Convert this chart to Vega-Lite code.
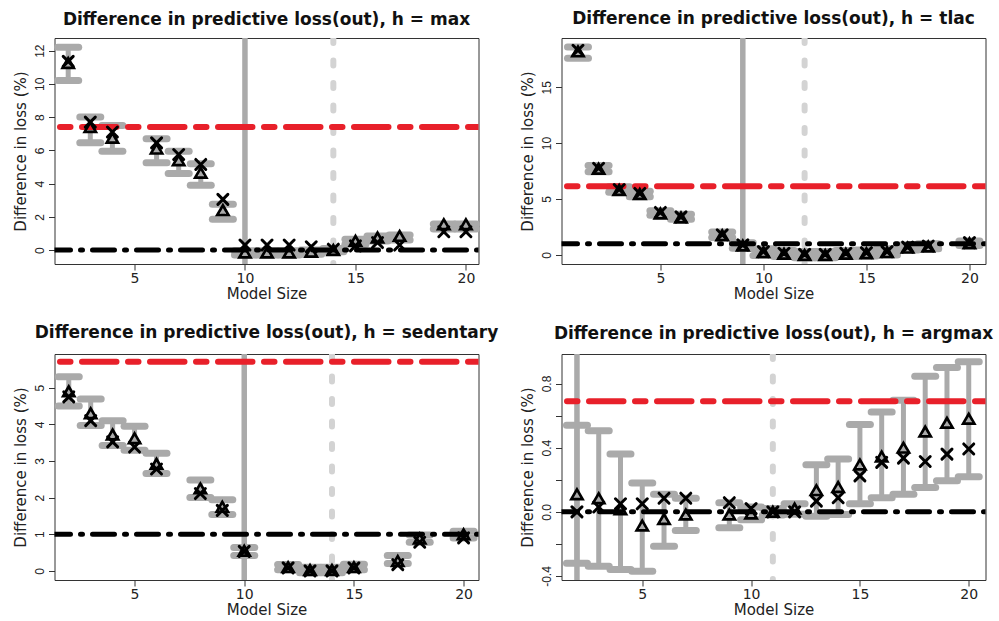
{
  "$schema": "https://vega.github.io/schema/vega-lite/v6.json",
  "background": "white",
  "padding": {"left": 12.5, "top": 9, "right": 5, "bottom": 5},
  "autosize": {"type": "pad"},
  "datasets": {
    "p1": [
      {"x": 2, "tri": 11.25, "xm": 11.35, "lo": 10.2, "hi": 12.2},
      {"x": 3, "tri": 7.4, "xm": 7.7, "lo": 6.45, "hi": 8.0},
      {"x": 4, "tri": 6.75, "xm": 7.1, "lo": 5.95, "hi": 7.5},
      {"x": 6, "tri": 6.1, "xm": 6.45, "lo": 5.25, "hi": 6.7},
      {"x": 7, "tri": 5.4, "xm": 5.75, "lo": 4.6, "hi": 5.95},
      {"x": 8, "tri": 4.65, "xm": 5.15, "lo": 3.9, "hi": 5.2},
      {"x": 9, "tri": 2.4, "xm": 3.05, "lo": 1.85, "hi": 2.75},
      {"x": 10, "tri": -0.15, "xm": 0.3, "lo": -0.3, "hi": -0.05},
      {"x": 11, "tri": -0.15, "xm": 0.3, "lo": -0.3, "hi": -0.05},
      {"x": 12, "tri": -0.15, "xm": 0.3, "lo": -0.3, "hi": -0.05},
      {"x": 13, "tri": -0.1, "xm": 0.2, "lo": -0.25, "hi": 0.0},
      {"x": 14, "tri": 0.0, "xm": 0.05, "lo": -0.1, "hi": 0.1},
      {"x": 15, "tri": 0.55, "xm": 0.25, "lo": 0.35, "hi": 0.65},
      {"x": 16, "tri": 0.75, "xm": 0.45, "lo": 0.55, "hi": 0.85},
      {"x": 17, "tri": 0.85, "xm": 0.3, "lo": 0.6, "hi": 0.9},
      {"x": 19, "tri": 1.55, "xm": 1.1, "lo": 1.27, "hi": 1.56},
      {"x": 20, "tri": 1.55, "xm": 1.1, "lo": 1.27, "hi": 1.56}
    ],
    "l1": [{"red": 7.4, "black": 0.0, "vsolid": 10, "vdash": 14}],
    "p2": [
      {"x": 1, "tri": 18.2, "xm": 18.3, "lo": 17.6, "hi": 18.6},
      {"x": 2, "tri": 7.7, "xm": 7.75, "lo": 7.45, "hi": 8.0},
      {"x": 3, "tri": 5.8, "xm": 5.85, "lo": 5.6, "hi": 6.1},
      {"x": 4, "tri": 5.45, "xm": 5.5, "lo": 5.2, "hi": 5.7},
      {"x": 5, "tri": 3.7, "xm": 3.8, "lo": 3.55, "hi": 3.95},
      {"x": 6, "tri": 3.35, "xm": 3.4, "lo": 3.2, "hi": 3.65},
      {"x": 8, "tri": 1.75, "xm": 1.8, "lo": 1.55, "hi": 2.05},
      {"x": 9, "tri": 0.85, "xm": 0.9, "lo": 0.6, "hi": 1.1},
      {"x": 10, "tri": 0.25, "xm": 0.3, "lo": -0.05, "hi": 0.55},
      {"x": 11, "tri": 0.1, "xm": 0.15, "lo": -0.15, "hi": 0.4},
      {"x": 12, "tri": 0.0, "xm": 0.05, "lo": -0.25, "hi": 0.3},
      {"x": 13, "tri": 0.0, "xm": 0.05, "lo": -0.25, "hi": 0.3},
      {"x": 14, "tri": 0.1, "xm": 0.15, "lo": -0.15, "hi": 0.4},
      {"x": 15, "tri": 0.15, "xm": 0.2, "lo": -0.1, "hi": 0.45},
      {"x": 16, "tri": 0.25, "xm": 0.3, "lo": 0.0, "hi": 0.55},
      {"x": 17, "tri": 0.65, "xm": 0.7, "lo": 0.45, "hi": 0.9},
      {"x": 18, "tri": 0.75, "xm": 0.8, "lo": 0.55, "hi": 1.0},
      {"x": 20, "tri": 1.05, "xm": 1.1, "lo": 0.85, "hi": 1.25}
    ],
    "l2": [{"red": 6.15, "black": 1.0, "vsolid": 9, "vdash": 12}],
    "p3": [
      {"x": 2, "tri": 4.9, "xm": 4.75, "lo": 4.5, "hi": 5.3},
      {"x": 3, "tri": 4.3, "xm": 4.1, "lo": 3.97, "hi": 4.69},
      {"x": 4, "tri": 3.72, "xm": 3.52, "lo": 3.42, "hi": 4.1},
      {"x": 5, "tri": 3.62, "xm": 3.38, "lo": 3.29, "hi": 3.95},
      {"x": 6, "tri": 2.92, "xm": 2.78, "lo": 2.66, "hi": 3.21},
      {"x": 8, "tri": 2.25, "xm": 2.11, "lo": 2.0, "hi": 2.48},
      {"x": 9, "tri": 1.75, "xm": 1.65, "lo": 1.54, "hi": 1.94},
      {"x": 10, "tri": 0.55, "xm": 0.53, "lo": 0.42, "hi": 0.64},
      {"x": 12, "tri": 0.1, "xm": 0.08, "lo": 0.03, "hi": 0.17},
      {"x": 13, "tri": 0.02, "xm": 0.0, "lo": -0.05, "hi": 0.1},
      {"x": 14, "tri": 0.02, "xm": 0.0, "lo": -0.05, "hi": 0.1},
      {"x": 15, "tri": 0.1, "xm": 0.08, "lo": 0.03, "hi": 0.18},
      {"x": 17, "tri": 0.27, "xm": 0.17, "lo": 0.2, "hi": 0.42},
      {"x": 18, "tri": 0.88, "xm": 0.78, "lo": 0.78, "hi": 0.98},
      {"x": 20, "tri": 1.0, "xm": 0.9, "lo": 0.9, "hi": 1.08}
    ],
    "l3": [{"red": 5.71, "black": 1.0, "vsolid": 10, "vdash": 14}],
    "p4": [
      {"x": 2, "tri": 0.11, "xm": 0.0, "lo": -0.32, "hi": 0.54},
      {"x": 3, "tri": 0.085, "xm": 0.03, "lo": -0.34, "hi": 0.505},
      {"x": 4, "tri": 0.015, "xm": 0.05, "lo": -0.36, "hi": 0.36},
      {"x": 5, "tri": -0.085, "xm": 0.05, "lo": -0.37, "hi": 0.18},
      {"x": 6, "tri": -0.045, "xm": 0.085, "lo": -0.215, "hi": 0.11},
      {"x": 7, "tri": -0.017, "xm": 0.085, "lo": -0.117, "hi": 0.085},
      {"x": 9, "tri": -0.017, "xm": 0.057, "lo": -0.1, "hi": 0.057},
      {"x": 10, "tri": -0.01, "xm": 0.02, "lo": -0.05, "hi": 0.03},
      {"x": 11, "tri": 0.0, "xm": 0.0, "lo": -0.02, "hi": 0.02},
      {"x": 12, "tri": 0.02, "xm": 0.0, "lo": -0.015, "hi": 0.05},
      {"x": 13, "tri": 0.135, "xm": 0.067, "lo": -0.027, "hi": 0.293},
      {"x": 14, "tri": 0.155, "xm": 0.088, "lo": -0.017, "hi": 0.329},
      {"x": 15, "tri": 0.295, "xm": 0.224, "lo": 0.05, "hi": 0.545},
      {"x": 16, "tri": 0.345, "xm": 0.308, "lo": 0.088, "hi": 0.622},
      {"x": 17, "tri": 0.4, "xm": 0.335, "lo": 0.109, "hi": 0.695},
      {"x": 18, "tri": 0.5, "xm": 0.314, "lo": 0.151, "hi": 0.845},
      {"x": 19, "tri": 0.555, "xm": 0.36, "lo": 0.193, "hi": 0.9},
      {"x": 20, "tri": 0.58, "xm": 0.392, "lo": 0.218, "hi": 0.936}
    ],
    "l4": [{"red": 0.69, "black": 0.0, "vsolid": 2, "vdash": 11}]
  },
  "columns": 2,
  "spacing": {"row": 90, "column": 83},
  "bounds": "flush",
  "concat": [
    {
      "title": {"text": "Difference in predictive loss(out), h = max", "offset": 9.2},
      "width": 424, "height": 226,
      "layer": [
        {"data": {"name": "p1"}, "mark": {"type": "rule", "color": "#aaaaaa", "strokeWidth": 5},
         "encoding": {
           "x": {"field": "x", "type": "quantitative", "title": "Model Size", "scale": {"domain": [1.38, 20.57], "nice": false, "zero": false}, "axis": {"values": [5, 10, 15, 20]}},
           "y": {"field": "lo", "type": "quantitative", "title": "Difference in loss (%)", "scale": {"domain": [-0.84, 12.76], "nice": false, "zero": false}, "axis": {"values": [0, 2, 4, 6, 8, 10, 12], "tickCount": 7}},
           "y2": {"field": "hi"}}},
        {"data": {"name": "p1"}, "mark": {"type": "rule", "color": "#aaaaaa", "strokeWidth": 7, "strokeCap": "round", "xOffset": -10.5, "x2Offset": 10.5},
         "encoding": {
           "x": {"field": "x", "type": "quantitative", "title": "Model Size", "scale": {"domain": [1.38, 20.57], "nice": false, "zero": false}, "axis": {"values": [5, 10, 15, 20]}},
           "x2": {"field": "x"},
           "y": {"field": "lo", "type": "quantitative", "title": "Difference in loss (%)", "scale": {"domain": [-0.84, 12.76], "nice": false, "zero": false}, "axis": {"values": [0, 2, 4, 6, 8, 10, 12], "tickCount": 7}}}},
        {"data": {"name": "p1"}, "mark": {"type": "rule", "color": "#aaaaaa", "strokeWidth": 7, "strokeCap": "round", "xOffset": -10.5, "x2Offset": 10.5},
         "encoding": {
           "x": {"field": "x", "type": "quantitative", "title": "Model Size", "scale": {"domain": [1.38, 20.57], "nice": false, "zero": false}, "axis": {"values": [5, 10, 15, 20]}},
           "x2": {"field": "x"},
           "y": {"field": "hi", "type": "quantitative", "title": "Difference in loss (%)", "scale": {"domain": [-0.84, 12.76], "nice": false, "zero": false}, "axis": {"values": [0, 2, 4, 6, 8, 10, 12], "tickCount": 7}}}},
        {"data": {"name": "l1"}, "mark": {"type": "rule", "color": "#aaaaaa", "strokeWidth": 5.5, "clip": true},
         "encoding": {"x": {"field": "vsolid", "type": "quantitative", "title": "Model Size", "scale": {"domain": [1.38, 20.57], "nice": false, "zero": false}, "axis": {"values": [5, 10, 15, 20]}}}},
        {"data": {"name": "l1"}, "mark": {"type": "rule", "color": "#d3d3d3", "strokeWidth": 6, "strokeCap": "round", "strokeDash": [5, 17.5], "clip": true},
         "encoding": {"x": {"field": "vdash", "type": "quantitative", "title": "Model Size", "scale": {"domain": [1.38, 20.57], "nice": false, "zero": false}, "axis": {"values": [5, 10, 15, 20]}}}},
        {"data": {"name": "l1"}, "mark": {"type": "rule", "color": "#e8202a", "strokeWidth": 6, "strokeCap": "round", "strokeDash": [10.5, 11.5, 34.5, 11.5], "clip": true},
         "encoding": {"y": {"field": "red", "type": "quantitative", "title": "Difference in loss (%)", "scale": {"domain": [-0.84, 12.76], "nice": false, "zero": false}, "axis": {"values": [0, 2, 4, 6, 8, 10, 12], "tickCount": 7}}}},
        {"data": {"name": "l1"}, "mark": {"type": "rule", "color": "#000000", "strokeWidth": 5, "strokeCap": "round", "strokeDash": [2, 10, 22, 10], "clip": true},
         "encoding": {"y": {"field": "black", "type": "quantitative", "title": "Difference in loss (%)", "scale": {"domain": [-0.84, 12.76], "nice": false, "zero": false}, "axis": {"values": [0, 2, 4, 6, 8, 10, 12], "tickCount": 7}}}},
        {"data": {"name": "p1"}, "mark": {"type": "point", "shape": "triangle-up", "filled": false, "color": "#000000", "strokeWidth": 2.7, "size": 125, "opacity": 1},
         "encoding": {
           "x": {"field": "x", "type": "quantitative", "title": "Model Size", "scale": {"domain": [1.38, 20.57], "nice": false, "zero": false}, "axis": {"values": [5, 10, 15, 20]}},
           "y": {"field": "tri", "type": "quantitative", "title": "Difference in loss (%)", "scale": {"domain": [-0.84, 12.76], "nice": false, "zero": false}, "axis": {"values": [0, 2, 4, 6, 8, 10, 12], "tickCount": 7}}}},
        {"data": {"name": "p1"}, "mark": {"type": "point", "shape": "M-1,-1L1,1M-1,1L1,-1", "filled": false, "color": "#000000", "strokeWidth": 3, "strokeCap": "round", "size": 100, "opacity": 1},
         "encoding": {
           "x": {"field": "x", "type": "quantitative", "title": "Model Size", "scale": {"domain": [1.38, 20.57], "nice": false, "zero": false}, "axis": {"values": [5, 10, 15, 20]}},
           "y": {"field": "xm", "type": "quantitative", "title": "Difference in loss (%)", "scale": {"domain": [-0.84, 12.76], "nice": false, "zero": false}, "axis": {"values": [0, 2, 4, 6, 8, 10, 12], "tickCount": 7}}}}
      ]
    },
    {
      "title": {"text": "Difference in predictive loss(out), h = tlac", "offset": 10.5},
      "width": 424, "height": 226,
      "layer": [
        {"data": {"name": "p2"}, "mark": {"type": "rule", "color": "#aaaaaa", "strokeWidth": 5},
         "encoding": {
           "x": {"field": "x", "type": "quantitative", "title": "Model Size", "scale": {"domain": [0.2, 20.78], "nice": false, "zero": false}, "axis": {"values": [5, 10, 15, 20]}},
           "y": {"field": "lo", "type": "quantitative", "title": "Difference in loss (%)", "scale": {"domain": [-0.81, 19.4], "nice": false, "zero": false}, "axis": {"values": [0, 5, 10, 15]}},
           "y2": {"field": "hi"}}},
        {"data": {"name": "p2"}, "mark": {"type": "rule", "color": "#aaaaaa", "strokeWidth": 7, "strokeCap": "round", "xOffset": -10.5, "x2Offset": 10.5},
         "encoding": {
           "x": {"field": "x", "type": "quantitative", "title": "Model Size", "scale": {"domain": [0.2, 20.78], "nice": false, "zero": false}, "axis": {"values": [5, 10, 15, 20]}},
           "x2": {"field": "x"},
           "y": {"field": "lo", "type": "quantitative", "title": "Difference in loss (%)", "scale": {"domain": [-0.81, 19.4], "nice": false, "zero": false}, "axis": {"values": [0, 5, 10, 15]}}}},
        {"data": {"name": "p2"}, "mark": {"type": "rule", "color": "#aaaaaa", "strokeWidth": 7, "strokeCap": "round", "xOffset": -10.5, "x2Offset": 10.5},
         "encoding": {
           "x": {"field": "x", "type": "quantitative", "title": "Model Size", "scale": {"domain": [0.2, 20.78], "nice": false, "zero": false}, "axis": {"values": [5, 10, 15, 20]}},
           "x2": {"field": "x"},
           "y": {"field": "hi", "type": "quantitative", "title": "Difference in loss (%)", "scale": {"domain": [-0.81, 19.4], "nice": false, "zero": false}, "axis": {"values": [0, 5, 10, 15]}}}},
        {"data": {"name": "l2"}, "mark": {"type": "rule", "color": "#aaaaaa", "strokeWidth": 5.5, "clip": true},
         "encoding": {"x": {"field": "vsolid", "type": "quantitative", "title": "Model Size", "scale": {"domain": [0.2, 20.78], "nice": false, "zero": false}, "axis": {"values": [5, 10, 15, 20]}}}},
        {"data": {"name": "l2"}, "mark": {"type": "rule", "color": "#d3d3d3", "strokeWidth": 6, "strokeCap": "round", "strokeDash": [5, 17.5], "clip": true},
         "encoding": {"x": {"field": "vdash", "type": "quantitative", "title": "Model Size", "scale": {"domain": [0.2, 20.78], "nice": false, "zero": false}, "axis": {"values": [5, 10, 15, 20]}}}},
        {"data": {"name": "l2"}, "mark": {"type": "rule", "color": "#e8202a", "strokeWidth": 6, "strokeCap": "round", "strokeDash": [10.5, 11.5, 34.5, 11.5], "clip": true},
         "encoding": {"y": {"field": "red", "type": "quantitative", "title": "Difference in loss (%)", "scale": {"domain": [-0.81, 19.4], "nice": false, "zero": false}, "axis": {"values": [0, 5, 10, 15]}}}},
        {"data": {"name": "l2"}, "mark": {"type": "rule", "color": "#000000", "strokeWidth": 5, "strokeCap": "round", "strokeDash": [2, 10, 22, 10], "clip": true},
         "encoding": {"y": {"field": "black", "type": "quantitative", "title": "Difference in loss (%)", "scale": {"domain": [-0.81, 19.4], "nice": false, "zero": false}, "axis": {"values": [0, 5, 10, 15]}}}},
        {"data": {"name": "p2"}, "mark": {"type": "point", "shape": "triangle-up", "filled": false, "color": "#000000", "strokeWidth": 2.7, "size": 125, "opacity": 1},
         "encoding": {
           "x": {"field": "x", "type": "quantitative", "title": "Model Size", "scale": {"domain": [0.2, 20.78], "nice": false, "zero": false}, "axis": {"values": [5, 10, 15, 20]}},
           "y": {"field": "tri", "type": "quantitative", "title": "Difference in loss (%)", "scale": {"domain": [-0.81, 19.4], "nice": false, "zero": false}, "axis": {"values": [0, 5, 10, 15]}}}},
        {"data": {"name": "p2"}, "mark": {"type": "point", "shape": "M-1,-1L1,1M-1,1L1,-1", "filled": false, "color": "#000000", "strokeWidth": 3, "strokeCap": "round", "size": 100, "opacity": 1},
         "encoding": {
           "x": {"field": "x", "type": "quantitative", "title": "Model Size", "scale": {"domain": [0.2, 20.78], "nice": false, "zero": false}, "axis": {"values": [5, 10, 15, 20]}},
           "y": {"field": "xm", "type": "quantitative", "title": "Difference in loss (%)", "scale": {"domain": [-0.81, 19.4], "nice": false, "zero": false}, "axis": {"values": [0, 5, 10, 15]}}}}
      ]
    },
    {
      "title": {"text": "Difference in predictive loss(out), h = sedentary", "offset": 11.8},
      "width": 424, "height": 226,
      "layer": [
        {"data": {"name": "p3"}, "mark": {"type": "rule", "color": "#aaaaaa", "strokeWidth": 5},
         "encoding": {
           "x": {"field": "x", "type": "quantitative", "title": "Model Size", "scale": {"domain": [1.35, 20.68], "nice": false, "zero": false}, "axis": {"values": [5, 10, 15, 20]}},
           "y": {"field": "lo", "type": "quantitative", "title": "Difference in loss (%)", "scale": {"domain": [-0.25, 5.92], "nice": false, "zero": false}, "axis": {"values": [0, 1, 2, 3, 4, 5]}},
           "y2": {"field": "hi"}}},
        {"data": {"name": "p3"}, "mark": {"type": "rule", "color": "#aaaaaa", "strokeWidth": 7, "strokeCap": "round", "xOffset": -10.5, "x2Offset": 10.5},
         "encoding": {
           "x": {"field": "x", "type": "quantitative", "title": "Model Size", "scale": {"domain": [1.35, 20.68], "nice": false, "zero": false}, "axis": {"values": [5, 10, 15, 20]}},
           "x2": {"field": "x"},
           "y": {"field": "lo", "type": "quantitative", "title": "Difference in loss (%)", "scale": {"domain": [-0.25, 5.92], "nice": false, "zero": false}, "axis": {"values": [0, 1, 2, 3, 4, 5]}}}},
        {"data": {"name": "p3"}, "mark": {"type": "rule", "color": "#aaaaaa", "strokeWidth": 7, "strokeCap": "round", "xOffset": -10.5, "x2Offset": 10.5},
         "encoding": {
           "x": {"field": "x", "type": "quantitative", "title": "Model Size", "scale": {"domain": [1.35, 20.68], "nice": false, "zero": false}, "axis": {"values": [5, 10, 15, 20]}},
           "x2": {"field": "x"},
           "y": {"field": "hi", "type": "quantitative", "title": "Difference in loss (%)", "scale": {"domain": [-0.25, 5.92], "nice": false, "zero": false}, "axis": {"values": [0, 1, 2, 3, 4, 5]}}}},
        {"data": {"name": "l3"}, "mark": {"type": "rule", "color": "#aaaaaa", "strokeWidth": 5.5, "clip": true},
         "encoding": {"x": {"field": "vsolid", "type": "quantitative", "title": "Model Size", "scale": {"domain": [1.35, 20.68], "nice": false, "zero": false}, "axis": {"values": [5, 10, 15, 20]}}}},
        {"data": {"name": "l3"}, "mark": {"type": "rule", "color": "#d3d3d3", "strokeWidth": 6, "strokeCap": "round", "strokeDash": [5, 17.5], "clip": true},
         "encoding": {"x": {"field": "vdash", "type": "quantitative", "title": "Model Size", "scale": {"domain": [1.35, 20.68], "nice": false, "zero": false}, "axis": {"values": [5, 10, 15, 20]}}}},
        {"data": {"name": "l3"}, "mark": {"type": "rule", "color": "#e8202a", "strokeWidth": 6, "strokeCap": "round", "strokeDash": [10.5, 11.5, 34.5, 11.5], "clip": true},
         "encoding": {"y": {"field": "red", "type": "quantitative", "title": "Difference in loss (%)", "scale": {"domain": [-0.25, 5.92], "nice": false, "zero": false}, "axis": {"values": [0, 1, 2, 3, 4, 5]}}}},
        {"data": {"name": "l3"}, "mark": {"type": "rule", "color": "#000000", "strokeWidth": 5, "strokeCap": "round", "strokeDash": [2, 10, 22, 10], "clip": true},
         "encoding": {"y": {"field": "black", "type": "quantitative", "title": "Difference in loss (%)", "scale": {"domain": [-0.25, 5.92], "nice": false, "zero": false}, "axis": {"values": [0, 1, 2, 3, 4, 5]}}}},
        {"data": {"name": "p3"}, "mark": {"type": "point", "shape": "triangle-up", "filled": false, "color": "#000000", "strokeWidth": 2.7, "size": 125, "opacity": 1},
         "encoding": {
           "x": {"field": "x", "type": "quantitative", "title": "Model Size", "scale": {"domain": [1.35, 20.68], "nice": false, "zero": false}, "axis": {"values": [5, 10, 15, 20]}},
           "y": {"field": "tri", "type": "quantitative", "title": "Difference in loss (%)", "scale": {"domain": [-0.25, 5.92], "nice": false, "zero": false}, "axis": {"values": [0, 1, 2, 3, 4, 5]}}}},
        {"data": {"name": "p3"}, "mark": {"type": "point", "shape": "M-1,-1L1,1M-1,1L1,-1", "filled": false, "color": "#000000", "strokeWidth": 3, "strokeCap": "round", "size": 100, "opacity": 1},
         "encoding": {
           "x": {"field": "x", "type": "quantitative", "title": "Model Size", "scale": {"domain": [1.35, 20.68], "nice": false, "zero": false}, "axis": {"values": [5, 10, 15, 20]}},
           "y": {"field": "xm", "type": "quantitative", "title": "Difference in loss (%)", "scale": {"domain": [-0.25, 5.92], "nice": false, "zero": false}, "axis": {"values": [0, 1, 2, 3, 4, 5]}}}}
      ]
    },
    {
      "title": {"text": "Difference in predictive loss(out), h = argmax", "offset": 11},
      "width": 424, "height": 226,
      "layer": [
        {"data": {"name": "p4"}, "mark": {"type": "rule", "color": "#aaaaaa", "strokeWidth": 5},
         "encoding": {
           "x": {"field": "x", "type": "quantitative", "title": "Model Size", "scale": {"domain": [1.29, 20.77], "nice": false, "zero": false}, "axis": {"values": [5, 10, 15, 20]}},
           "y": {"field": "lo", "type": "quantitative", "title": "Difference in loss (%)", "scale": {"domain": [-0.425, 0.984], "nice": false, "zero": false}, "axis": {"values": [-0.4, -0.2, 0, 0.2, 0.4, 0.6, 0.8], "labelExpr": "abs(datum.value + 0.4) < 0.01 ? '-0.4' : abs(datum.value) < 0.01 ? '0.0' : abs(datum.value - 0.4) < 0.01 ? '0.4' : abs(datum.value - 0.8) < 0.01 ? '0.8' : ''"}},
           "y2": {"field": "hi"}}},
        {"data": {"name": "p4"}, "mark": {"type": "rule", "color": "#aaaaaa", "strokeWidth": 7, "strokeCap": "round", "xOffset": -10.5, "x2Offset": 10.5},
         "encoding": {
           "x": {"field": "x", "type": "quantitative", "title": "Model Size", "scale": {"domain": [1.29, 20.77], "nice": false, "zero": false}, "axis": {"values": [5, 10, 15, 20]}},
           "x2": {"field": "x"},
           "y": {"field": "lo", "type": "quantitative", "title": "Difference in loss (%)", "scale": {"domain": [-0.425, 0.984], "nice": false, "zero": false}, "axis": {"values": [-0.4, -0.2, 0, 0.2, 0.4, 0.6, 0.8], "labelExpr": "abs(datum.value + 0.4) < 0.01 ? '-0.4' : abs(datum.value) < 0.01 ? '0.0' : abs(datum.value - 0.4) < 0.01 ? '0.4' : abs(datum.value - 0.8) < 0.01 ? '0.8' : ''"}}}},
        {"data": {"name": "p4"}, "mark": {"type": "rule", "color": "#aaaaaa", "strokeWidth": 7, "strokeCap": "round", "xOffset": -10.5, "x2Offset": 10.5},
         "encoding": {
           "x": {"field": "x", "type": "quantitative", "title": "Model Size", "scale": {"domain": [1.29, 20.77], "nice": false, "zero": false}, "axis": {"values": [5, 10, 15, 20]}},
           "x2": {"field": "x"},
           "y": {"field": "hi", "type": "quantitative", "title": "Difference in loss (%)", "scale": {"domain": [-0.425, 0.984], "nice": false, "zero": false}, "axis": {"values": [-0.4, -0.2, 0, 0.2, 0.4, 0.6, 0.8], "labelExpr": "abs(datum.value + 0.4) < 0.01 ? '-0.4' : abs(datum.value) < 0.01 ? '0.0' : abs(datum.value - 0.4) < 0.01 ? '0.4' : abs(datum.value - 0.8) < 0.01 ? '0.8' : ''"}}}},
        {"data": {"name": "l4"}, "mark": {"type": "rule", "color": "#aaaaaa", "strokeWidth": 5.5, "clip": true},
         "encoding": {"x": {"field": "vsolid", "type": "quantitative", "title": "Model Size", "scale": {"domain": [1.29, 20.77], "nice": false, "zero": false}, "axis": {"values": [5, 10, 15, 20]}}}},
        {"data": {"name": "l4"}, "mark": {"type": "rule", "color": "#d3d3d3", "strokeWidth": 6, "strokeCap": "round", "strokeDash": [5, 17.5], "clip": true},
         "encoding": {"x": {"field": "vdash", "type": "quantitative", "title": "Model Size", "scale": {"domain": [1.29, 20.77], "nice": false, "zero": false}, "axis": {"values": [5, 10, 15, 20]}}}},
        {"data": {"name": "l4"}, "mark": {"type": "rule", "color": "#e8202a", "strokeWidth": 6, "strokeCap": "round", "strokeDash": [10.5, 11.5, 34.5, 11.5], "clip": true},
         "encoding": {"y": {"field": "red", "type": "quantitative", "title": "Difference in loss (%)", "scale": {"domain": [-0.425, 0.984], "nice": false, "zero": false}, "axis": {"values": [-0.4, -0.2, 0, 0.2, 0.4, 0.6, 0.8], "labelExpr": "abs(datum.value + 0.4) < 0.01 ? '-0.4' : abs(datum.value) < 0.01 ? '0.0' : abs(datum.value - 0.4) < 0.01 ? '0.4' : abs(datum.value - 0.8) < 0.01 ? '0.8' : ''"}}}},
        {"data": {"name": "l4"}, "mark": {"type": "rule", "color": "#000000", "strokeWidth": 5, "strokeCap": "round", "strokeDash": [2, 10, 22, 10], "clip": true},
         "encoding": {"y": {"field": "black", "type": "quantitative", "title": "Difference in loss (%)", "scale": {"domain": [-0.425, 0.984], "nice": false, "zero": false}, "axis": {"values": [-0.4, -0.2, 0, 0.2, 0.4, 0.6, 0.8], "labelExpr": "abs(datum.value + 0.4) < 0.01 ? '-0.4' : abs(datum.value) < 0.01 ? '0.0' : abs(datum.value - 0.4) < 0.01 ? '0.4' : abs(datum.value - 0.8) < 0.01 ? '0.8' : ''"}}}},
        {"data": {"name": "p4"}, "mark": {"type": "point", "shape": "triangle-up", "filled": false, "color": "#000000", "strokeWidth": 2.7, "size": 125, "opacity": 1},
         "encoding": {
           "x": {"field": "x", "type": "quantitative", "title": "Model Size", "scale": {"domain": [1.29, 20.77], "nice": false, "zero": false}, "axis": {"values": [5, 10, 15, 20]}},
           "y": {"field": "tri", "type": "quantitative", "title": "Difference in loss (%)", "scale": {"domain": [-0.425, 0.984], "nice": false, "zero": false}, "axis": {"values": [-0.4, -0.2, 0, 0.2, 0.4, 0.6, 0.8], "labelExpr": "abs(datum.value + 0.4) < 0.01 ? '-0.4' : abs(datum.value) < 0.01 ? '0.0' : abs(datum.value - 0.4) < 0.01 ? '0.4' : abs(datum.value - 0.8) < 0.01 ? '0.8' : ''"}}}},
        {"data": {"name": "p4"}, "mark": {"type": "point", "shape": "M-1,-1L1,1M-1,1L1,-1", "filled": false, "color": "#000000", "strokeWidth": 3, "strokeCap": "round", "size": 100, "opacity": 1},
         "encoding": {
           "x": {"field": "x", "type": "quantitative", "title": "Model Size", "scale": {"domain": [1.29, 20.77], "nice": false, "zero": false}, "axis": {"values": [5, 10, 15, 20]}},
           "y": {"field": "xm", "type": "quantitative", "title": "Difference in loss (%)", "scale": {"domain": [-0.425, 0.984], "nice": false, "zero": false}, "axis": {"values": [-0.4, -0.2, 0, 0.2, 0.4, 0.6, 0.8], "labelExpr": "abs(datum.value + 0.4) < 0.01 ? '-0.4' : abs(datum.value) < 0.01 ? '0.0' : abs(datum.value - 0.4) < 0.01 ? '0.4' : abs(datum.value - 0.8) < 0.01 ? '0.8' : ''"}}}}
      ]
    }
  ],
  "config": {
    "view": {"stroke": "#333333", "strokeWidth": 1},
    "font": "DejaVu Sans",
    "axis": {"grid": false, "domain": false, "ticks": true, "tickSize": 6, "tickColor": "#333333", "tickWidth": 1, "labelColor": "#222222", "titleColor": "#222222", "titleFontWeight": "normal", "titleFont": "DejaVu Sans", "labelOverlap": false},
    "axisX": {"labelFont": "DejaVu Sans", "labelFontSize": 14, "labelPadding": 1, "labelAngle": 0, "titleFontSize": 15, "titlePadding": 1},
    "axisY": {"labelFont": "Liberation Sans", "labelFontSize": 12, "labelAngle": -90, "labelAlign": "center", "labelBaseline": "alphabetic", "labelPadding": 5.5, "titleFontSize": 15, "titlePadding": 4.5},
    "title": {"font": "DejaVu Sans", "fontSize": 17, "fontWeight": "bold", "color": "#111111", "anchor": "middle", "frame": "group", "baseline": "alphabetic"}
  }
}
